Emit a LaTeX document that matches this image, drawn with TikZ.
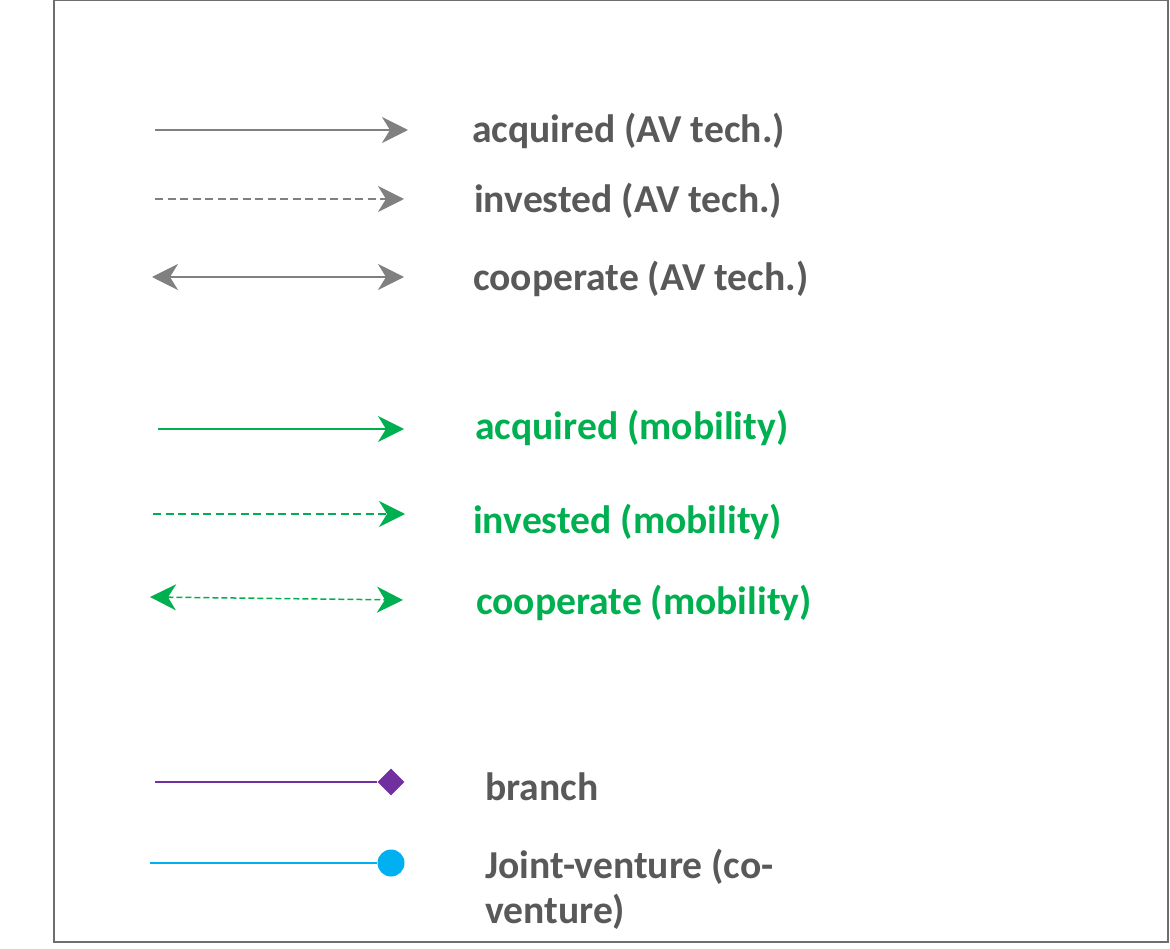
\documentclass[tikz,border=0pt]{standalone}
\usepackage{fontspec}
\setmainfont{Carlito}
\definecolor{mygray}{RGB}{128,128,128}
\definecolor{mytext}{RGB}{89,89,89}
\definecolor{mygreen}{RGB}{0,176,80}
\definecolor{mypurple}{RGB}{112,48,160}
\definecolor{mycyan}{RGB}{0,176,240}
\usetikzlibrary{arrows.meta,shapes.geometric}

\begin{document}
\begin{tikzpicture}[x=1pt,y=-1pt,line cap=butt]
	\tikzstyle{onetip}=[-{Stealth[length=26pt,width=26pt,inset=8pt]}];
	\tikzstyle{twotip}=[{Stealth[length=26pt,width=26pt,inset=8pt]}-{Stealth[length=26pt,width=26pt,inset=8pt]}];
	\tikzstyle{dashline}=[dash pattern=on 8pt off 4.5pt];
	\tikzstyle{lbl}=[anchor=base west,inner sep=0pt,font=\fontsize{39.6}{45}\selectfont\bfseries];
	\useasboundingbox (0,0) rectangle (1170,949);
	\draw[line width=1.5pt,color={rgb,255:red,110;green,110;blue,110}] (54,0.75) rectangle (1168,942);
	% AV tech.
	\coordinate (acqS) at (155,130); \coordinate (acqE) at (408,130);
	\coordinate (invS) at (155,199); \coordinate (invE) at (404,199);
	\coordinate (coS)  at (152,277); \coordinate (coE)  at (404,277);
	\draw[onetip,mygray,line width=2pt] (acqS) -- (acqE);
	\draw[onetip,mygray,line width=2pt,dashline] (invS) -- (invE);
	\draw[twotip,mygray,line width=2pt] (coS) -- (coE);
	\node[lbl,mytext] (acq) at (472,143) {acquired (AV tech.)};
	\node[lbl,mytext] (inv) at (474,213) {invested (AV tech.)};
	\node[lbl,mytext] (co)  at (473,291) {cooperate (AV tech.)};
	% mobility
	\coordinate (macqS) at (158,429); \coordinate (macqE) at (404,429);
	\coordinate (minvS) at (153,514); \coordinate (minvE) at (405,514);
	\coordinate (mcoS)  at (150,597); \coordinate (mcoE)  at (403,600);
	\draw[onetip,mygreen,line width=2pt] (macqS) -- (macqE);
	\draw[onetip,mygreen,line width=2pt,dashline] (minvS) -- (minvE);
	\draw[twotip,mygreen,line width=1.5pt,dash pattern=on 6pt off 3pt] (mcoS) -- (mcoE);
	\node[lbl,mygreen] (macq) at (475,439) {acquired (mobility)};
	\node[lbl,mygreen] (minv) at (473,533) {invested (mobility)};
	\node[lbl,mygreen] (mco)  at (476,614) {cooperate (mobility)};
	% branch, joint-venture
	\node[diamond,fill=mypurple,inner sep=0pt,minimum size=27pt] (br) at (391,782) {};
	\node[circle,fill=mycyan,inner sep=0pt,minimum size=27pt] (jv) at (391,863) {};
	\coordinate (brS) at (155,782);
	\coordinate (jvS) at (150,863);
	\draw[mypurple,line width=1.5pt] (brS) -- (br);
	\draw[mycyan,line width=1.5pt] (jvS) -- (jv);
	\node[lbl,mytext] (brl) at (485,800) {branch};
	\node[lbl,mytext,align=left] (jvl) at (485,923) {Joint-venture (co-\\venture)};
\end{tikzpicture}
\end{document}
